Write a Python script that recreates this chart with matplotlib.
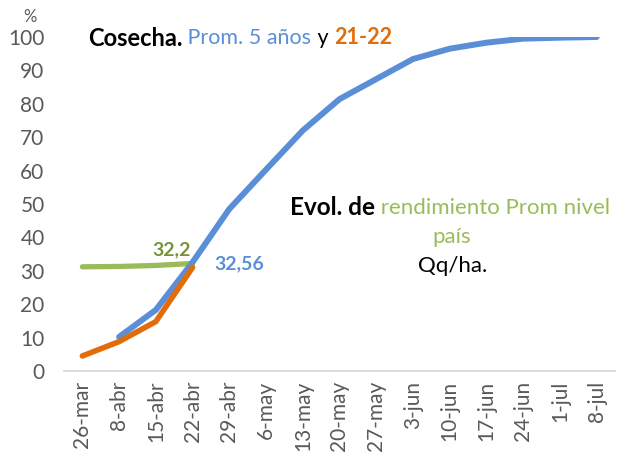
import matplotlib
matplotlib.use('Agg')
import matplotlib.pyplot as plt
import numpy as np

# weekly categories
weeks = ['26-mar', '8-abr', '15-abr', '22-abr', '29-abr', '6-may', '13-may', '20-may',
         '27-may', '3-jun', '10-jun', '17-jun', '24-jun', '1-jul', '8-jul']
y_ticks = [0, 10, 20, 30, 40, 50, 60, 70, 80, 90, 100]

# harvest progress (%) - 5 year average, starts at 8-abr
prom5 = [np.nan, 10.2, 18.3, 32.56, 48.5, 60.3, 72.0, 81.4, 87.4, 93.4, 96.5, 98.3, 99.5, 99.8, 100.0]
# harvest progress (%) 21-22
camp2122 = [4.5, 8.8, 14.8, 31.0] + [np.nan] * 11
# yield Qq/ha
rend = [31.2, 31.3, 31.6, 32.2] + [np.nan] * 11

BLUE = '#5a8fd8'
ORANGE = '#e36c0a'
GREEN = '#9bbb59'
DKGREEN = '#77933c'
GRAY = '#595959'

plt.rcParams['font.family'] = ['Lato', 'DejaVu Sans']

fig = plt.figure(figsize=(6.18, 4.58), dpi=100)
ax = fig.add_axes([64 / 618, 1 - 371 / 458, (615 - 64) / 618, (371 - 37) / 458])

x = np.arange(len(weeks))
ax.plot(x, prom5, color=BLUE, lw=4.3, solid_capstyle='round', zorder=3)
ax.plot(x, rend, color=GREEN, lw=3.8, solid_capstyle='round', zorder=2)
ax.plot(x, camp2122, color=ORANGE, lw=4.0, solid_capstyle='round', zorder=4)

ax.set_xlim(-0.5, len(weeks) - 0.5)
ax.set_ylim(0, 100)
ax.set_yticks(y_ticks)
ax.set_yticklabels([str(v) for v in y_ticks], fontsize=15, color=GRAY)
ax.set_xticks(x)
ax.set_xticklabels(weeks, rotation=90, fontsize=15, color=GRAY)
ax.tick_params(length=0, pad=7)
ax.tick_params(axis='y', pad=14)
for s in ['left', 'right', 'top']:
    ax.spines[s].set_visible(False)
ax.spines['bottom'].set_color('#d9d9d9')
ax.spines['bottom'].set_linewidth(1.3)
ax.spines['bottom'].set_clip_on(False)

# value labels
ax.text(3 - 0.05, rend[3] + 1.5, '32,2', color=DKGREEN, fontsize=14, fontweight='bold',
        ha='right', va='bottom')
ax.text(3 + 0.6, prom5[3] - 0.5, '32,56', color=BLUE, fontsize=14, fontweight='bold',
        ha='left', va='center')

# title-like annotations
fig.text(30 / 618, 1 - 17 / 458, '%', fontsize=12, color=GRAY, ha='center', va='center')

t = fig.text(88 / 618, 1 - 38 / 458, 'Cosecha.', fontsize=17, fontweight='bold', color='black',
             va='center')
fig.canvas.draw()
r = fig.canvas.get_renderer()


def next_text(prev, s, **kw):
    bb = prev.get_window_extent(renderer=r)
    return fig.text(bb.x1 / 618, 1 - 38 / 458, s, va='center', **kw)


t2 = next_text(t, ' Prom. 5 años', fontsize=15.5, color=BLUE)
t3 = next_text(t2, ' y ', fontsize=15.5, color='black')
t4 = next_text(t3, '21-22', fontsize=15.5, fontweight='bold', color=ORANGE)

e1 = fig.text(290 / 618, 1 - 208 / 458, 'Evol. de', fontsize=17.5, fontweight='bold',
              color='black', va='center')
fig.canvas.draw()
bb = e1.get_window_extent(renderer=r)
fig.text(bb.x1 / 618, 1 - 208 / 458, ' rendimiento Prom nivel', fontsize=16,
         color=GREEN, va='center')
fig.text(452 / 618, 1 - 237 / 458, 'país', fontsize=16, color=GREEN, ha='center', va='center')
fig.text(453 / 618, 1 - 266 / 458, 'Qq/ha.', fontsize=16, color='black', ha='center', va='center')

fig.savefig('out.png', dpi=100)
